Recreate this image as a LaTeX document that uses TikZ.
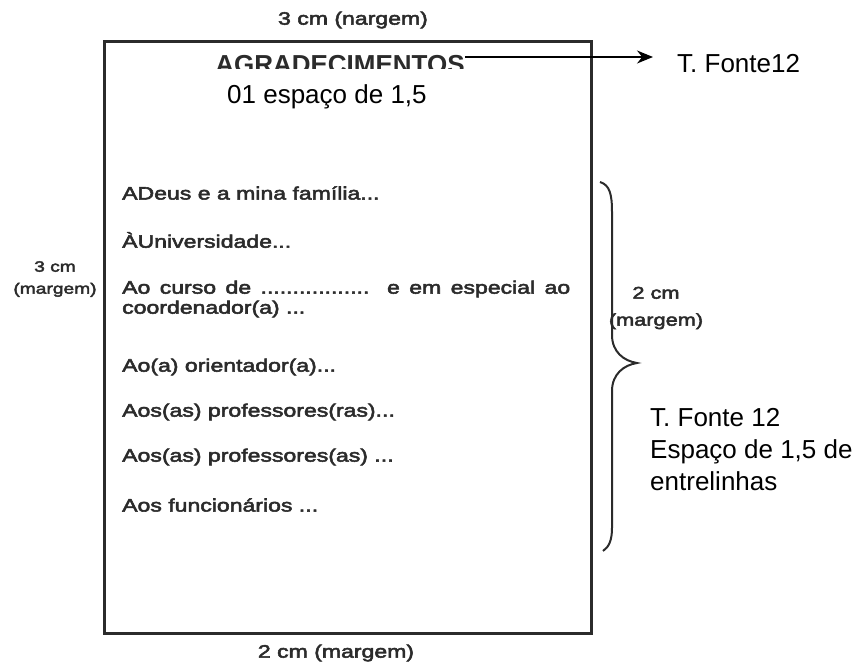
\documentclass[tikz,border=0pt]{standalone}
\usepackage{fontspec}
\setmainfont{Liberation Sans}
\newfontfamily\scanfont[FakeBold=3,FakeStretch=1.28]{Liberation Sans}
\usetikzlibrary{arrows.meta}
\definecolor{scangray}{HTML}{2B2B2B}
\tikzset{
  scan/.style={font=\scanfont\fontsize{18}{20}\selectfont, text=scangray, inner sep=0pt, anchor=west, align=left},
  note/.style={font=\fontsize{26}{32}\selectfont, text=black, inner sep=0pt, anchor=west, align=left},
  margem/.style={font=\scanfont\fontsize{18}{22}\selectfont, text=scangray, inner sep=0pt, align=center},
}

\begin{document}
\begin{tikzpicture}[x=1pt,y=-1pt]
   \useasboundingbox (0,0) rectangle (863,666);
   % pagina
   \draw[line width=3pt, draw=scangray] (104,42) rectangle (591,633);
   \node[margem] (mtop) at (353,20) {3 cm (nargem)};
   \node[margem] (mbottom) at (336,653) {2 cm (margem)};
   \node[margem, font=\scanfont\fontsize{15}{22}\selectfont] (mleft) at (55,279) {3 cm\\(margem)};
   \node[margem, font=\scanfont\fontsize{17}{27}\selectfont] (mright) at (656,308) {2 cm\\(margem)};
   % titulo, cortado embaixo
   \begin{scope}
      \clip (0,0) rectangle (863,69);
      \node[font=\bfseries\fontsize{26}{26}\selectfont, text=scangray, anchor=base, inner sep=0pt] (titulo) at (340,74) {AGRADECIMENTOS};
   \end{scope}
   \node[note] (espaco) at (227,97) {01 espaço de 1,5};
   \node[note] (fonte) at (677,64) {T. Fonte12};
   \coordinate (ptrtip) at (653,57);
   \draw[line width=1.6pt, -{Stealth[length=16pt,width=13pt]}] (titulo.east |- ptrtip) -- (ptrtip);
   % texto
   \node[scan] (deus) at (122,193) {ADeus e a mina família...};
   \node[scan] (univ) at (122,240) {ÀUniversidade...};
   \node[scan] (curso) at (122,299) {\makebox[448pt][s]{Ao curso de ................. e em especial ao}\\coordenador(a) ...};
   \node[scan] (orient) at (122,367) {Ao(a) orientador(a)...};
   \node[scan] (prof1) at (122,412) {Aos(as) professores(ras)...};
   \node[scan] (prof2) at (122,457) {Aos(as) professores(as) ...};
   \node[scan] (func) at (122,505) {Aos funcionários ...};
   % chave
   \draw[line width=2pt, draw=scangray] (600,182) .. controls (610,185) and (612,195) .. (612,212) -- (612,335)
      .. controls (612,352) and (624,361) .. (637,363) .. controls (624,365) and (612,374) .. (612,391)
      -- (612,528) .. controls (612,540) and (609,547) .. (603,551);
   \node[note] (entrelinhas) at (650,450) {T. Fonte 12\\Espaço de 1,5 de\\entrelinhas};
\end{tikzpicture}
\end{document}
